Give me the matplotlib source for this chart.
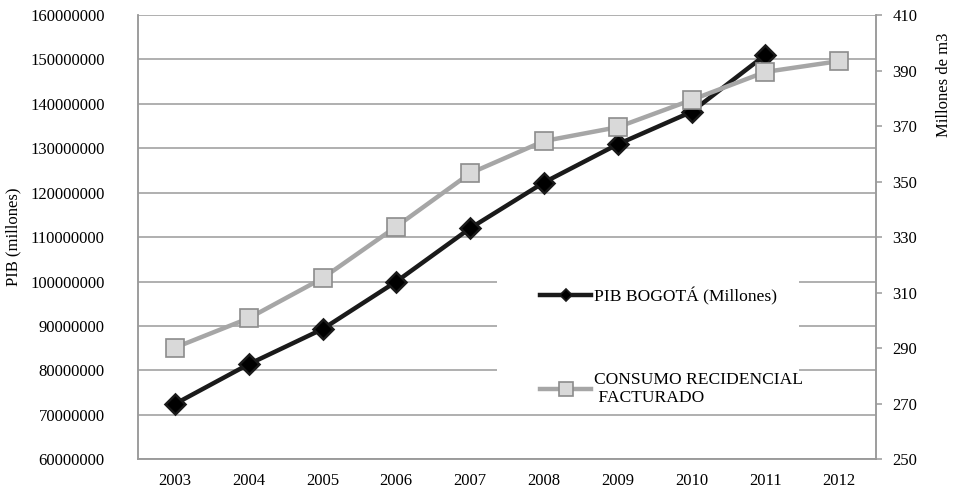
import matplotlib
matplotlib.use("Agg")
import matplotlib.pyplot as plt
from matplotlib.lines import Line2D
from matplotlib.patches import Rectangle
from matplotlib.ticker import FuncFormatter

plt.rcParams['font.family'] = ['Liberation Serif', 'DejaVu Serif']

years = ['2003', '2004', '2005', '2006', '2007', '2008', '2009', '2010', '2011', '2012']
pib = [72.45e6, 81.4e6, 89.3e6, 100.0e6, 112.0e6, 122.3e6, 130.9e6, 138.2e6, 151.0e6]
consumo = [290.2, 300.8, 315.2, 333.8, 353.0, 364.6, 369.6, 379.4, 389.5, 393.4]

pib_label = 'PIB BOGOTÁ (Millones)'
consumo_label = 'CONSUMO RECIDENCIAL\n FACTURADO'

grid_c = '#9a9a9a'
fs = 12
lfs = 12.6

fig = plt.figure(figsize=(9.56, 4.95), dpi=100)
ax1 = fig.add_axes([138/956, 1-459.3/495, (876-138)/956, (459.3-15)/495])
ax2 = ax1.twinx()

x = list(range(len(years)))

ax1.plot(x[:len(pib)], pib, color='#1a1a1a', lw=3.2, marker='D', ms=10,
         mfc='black', mec='#1a1a1a', mew=1.8, zorder=3)
ax2.plot(x, consumo, color='#a6a6a6', lw=3.2, marker='s', ms=12.5,
         mfc='#d9d9d9', mec='#8c8c8c', mew=1.2, zorder=3)

ax1.set_xlim(-0.5, len(years)-0.5)
ax1.set_ylim(60e6, 160e6)
ax1.set_yticks([60e6 + i*10e6 for i in range(11)])
ax1.yaxis.set_major_formatter(FuncFormatter(lambda v, p: f'{int(round(v))}'))
ax2.set_ylim(250, 410)
ax2.set_yticks(list(range(250, 411, 20)))

ax1.set_xticks(x)
ax1.set_xticklabels(years)

ax1.set_axisbelow(True)
ax1.grid(axis='y', color=grid_c, lw=1.1)
ax1.grid(axis='x', visible=False)

for a in (ax1, ax2):
    for s in a.spines.values():
        s.set_color(grid_c)
        s.set_linewidth(1.1)
    a.spines['top'].set_visible(False)

ax1.tick_params(axis='y', length=0, pad=24, labelsize=fs, colors='black')
ax1.tick_params(axis='x', length=0, pad=10, labelsize=fs, colors='black')
ax2.tick_params(axis='y', length=4, width=1.1, color=grid_c, pad=8,
                labelsize=fs, labelcolor='black')

ax1.set_ylabel('PIB (millones)', fontsize=fs, labelpad=6)
fig.text(944/956, 1-85/495, 'Millones de m3', rotation=90, fontsize=fs,
         ha='center', va='center')

# white box behind legend covering gridlines
ax1.add_patch(Rectangle((0.486, 0.115), 0.41, 0.33, transform=ax1.transAxes,
                        facecolor='white', edgecolor='none', zorder=1))

handles = [
    Line2D([], [], color='#1a1a1a', lw=3.2, marker='D', ms=6.5, mfc='black',
           mec='#1a1a1a', mew=1.2),
    Line2D([], [], color='#a6a6a6', lw=3.2, marker='s', ms=10,
           mfc='#d9d9d9', mec='#8c8c8c', mew=1.2),
]
ax2.legend(handles, [pib_label, consumo_label], loc='upper left',
           bbox_to_anchor=(0.545, 0.387), frameon=False, fontsize=lfs,
           handlelength=2.9, handletextpad=0.2, labelspacing=3.8,
           borderpad=0, borderaxespad=0)

fig.savefig('out.png', dpi=100)
